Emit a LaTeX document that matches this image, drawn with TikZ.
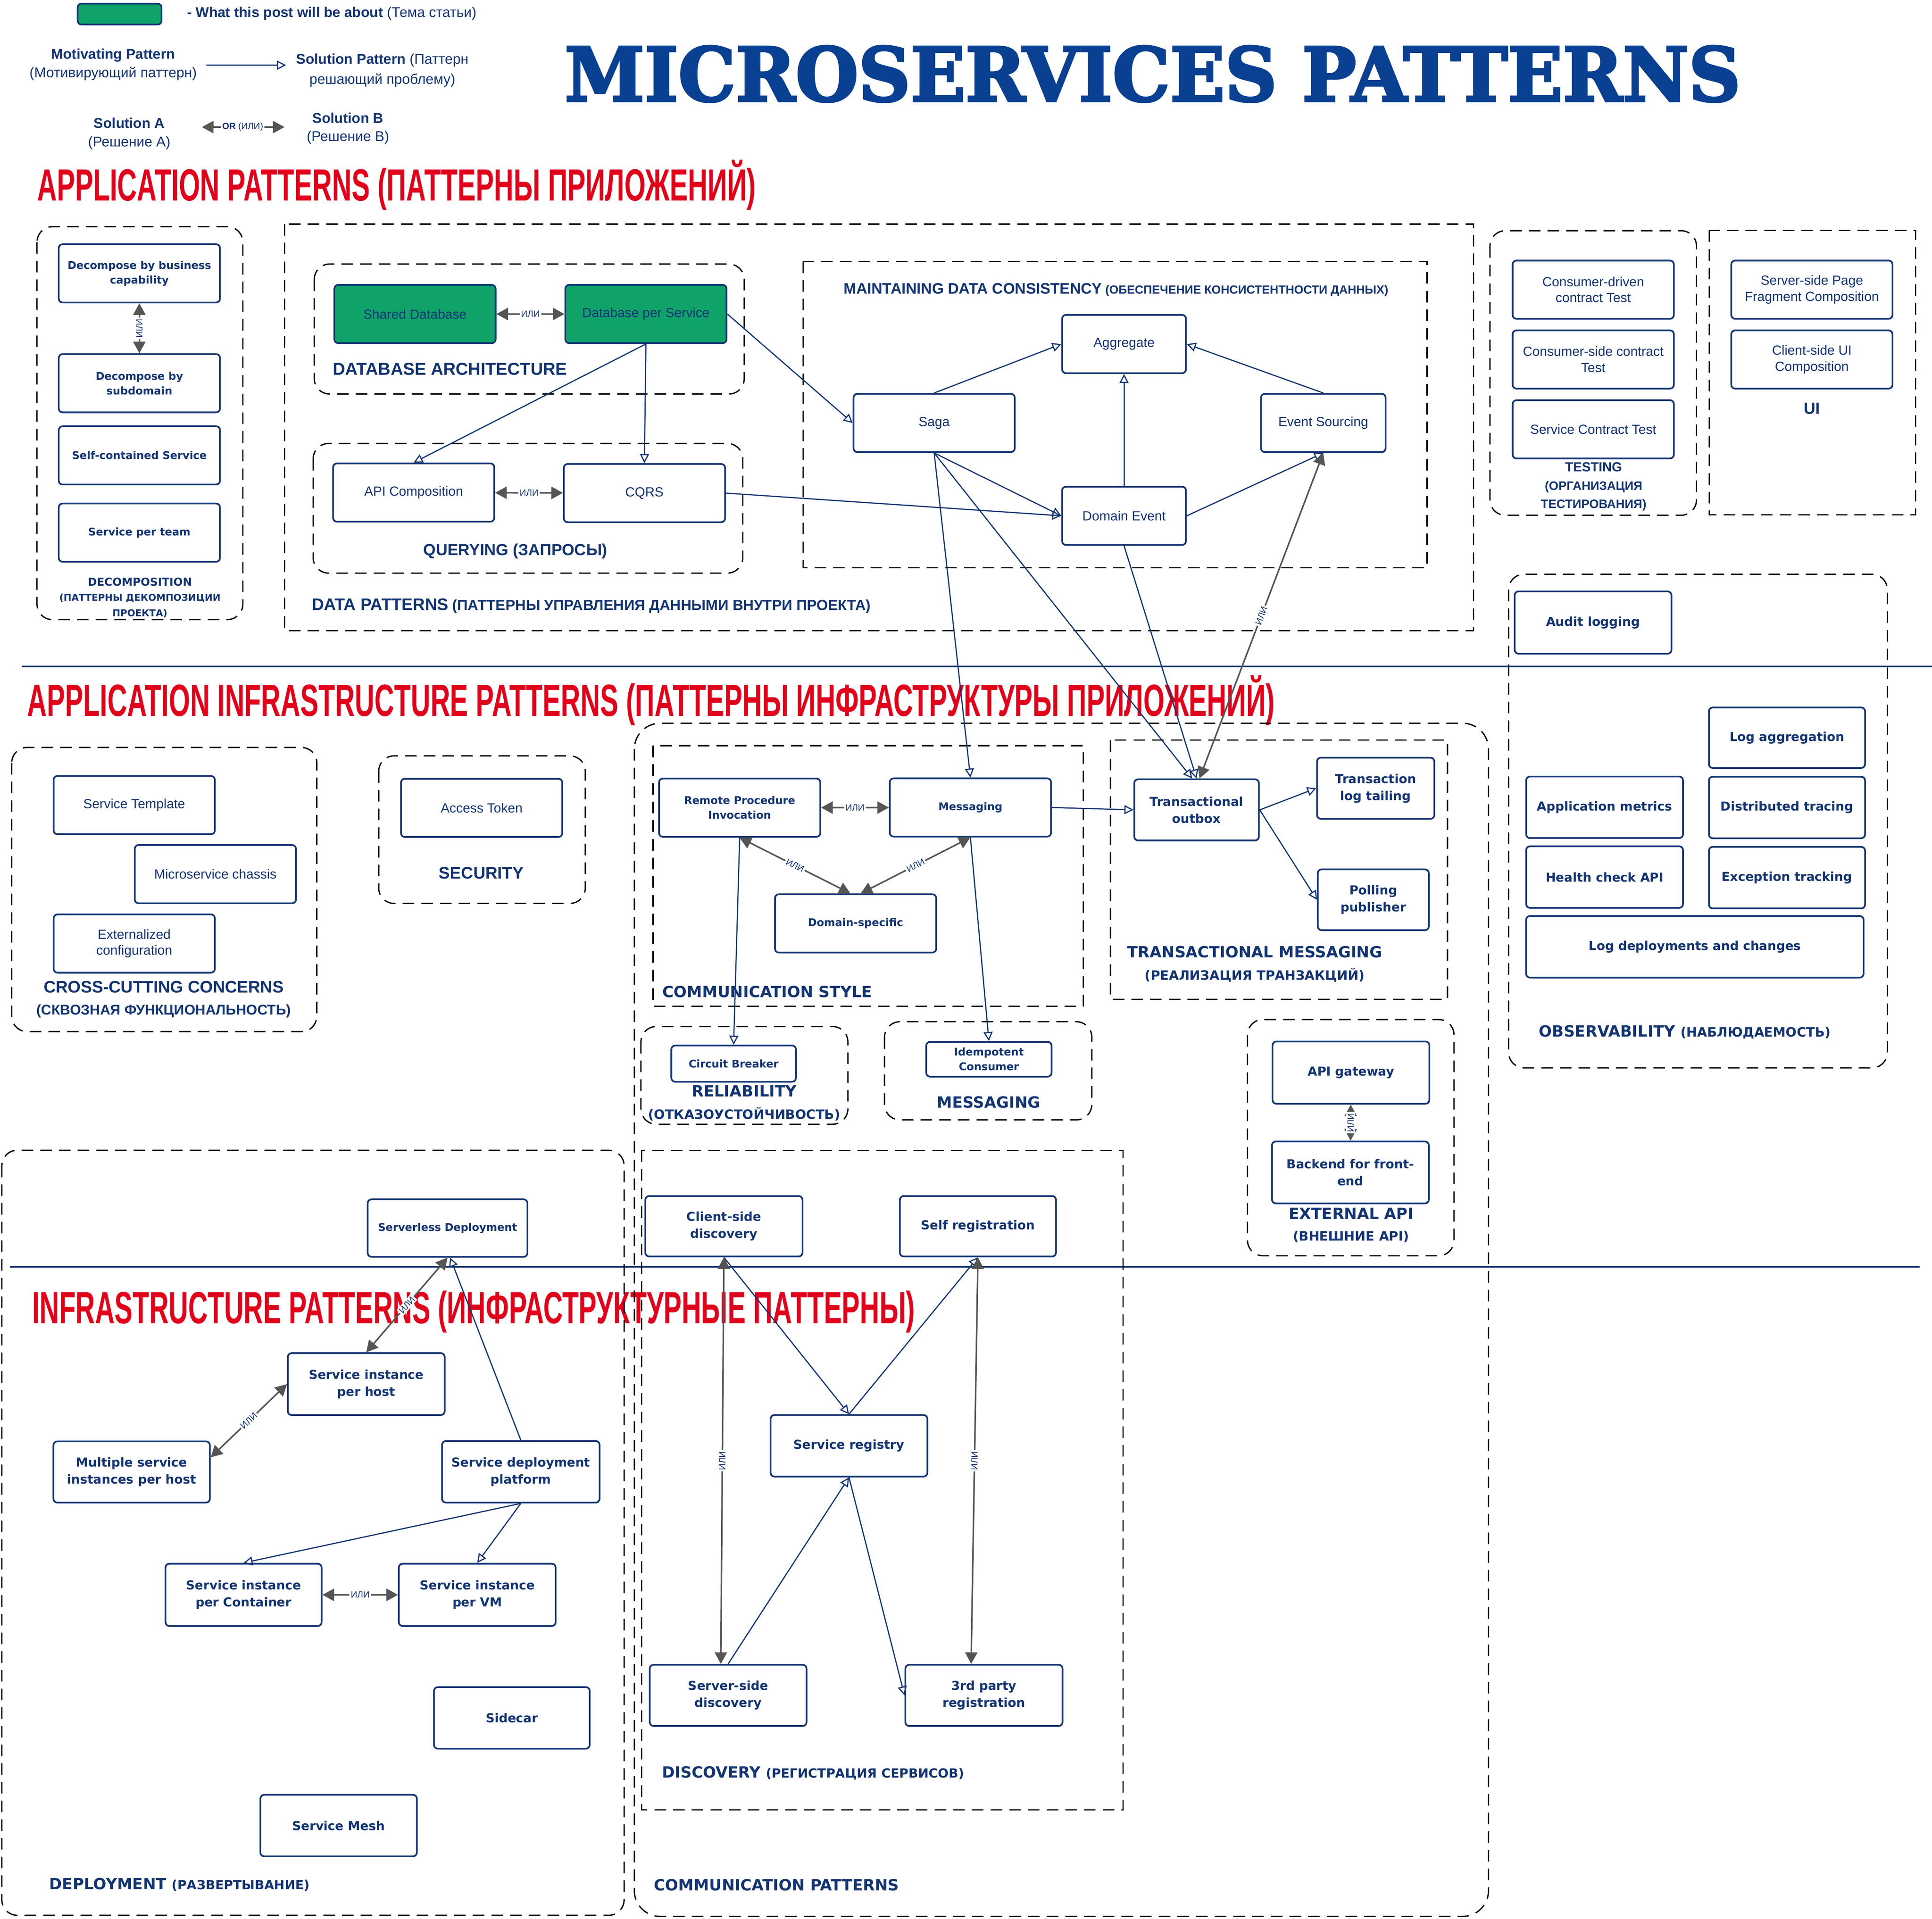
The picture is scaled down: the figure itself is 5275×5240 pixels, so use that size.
\documentclass[tikz,border=0pt]{standalone}
\usepackage{fontspec}
\usepackage{graphicx}
\setmainfont{Liberation Sans}
\newfontfamily\widefont{DejaVu Sans}
\newfontfamily\slabfont{DejaVu Serif}[FakeBold=3]
\definecolor{Navy}{RGB}{19, 52, 115}
\definecolor{TitleBlue}{RGB}{10, 64, 145}
\definecolor{Leaf}{RGB}{15, 163, 106}
\definecolor{Alert}{RGB}{226, 0, 26}
\definecolor{Shade}{RGB}{85, 85, 85}
\usetikzlibrary{arrows.meta, positioning}

\begin{document}
\begin{tikzpicture}[
        x=0.01cm, y=-0.01cm,
        box/.style={rectangle, draw=Navy, line width=1.3pt, rounded corners=3pt, text=Navy, align=center, inner sep=2pt, font=\fontsize{10.3}{12.5}\selectfont},
        pat/.style={box, minimum width=4.4cm, minimum height=1.59cm},
        spat/.style={pat, font=\widefont\bfseries\fontsize{8.25}{11.4}\selectfont},
        wpat/.style={box, minimum width=4.28cm, minimum height=1.68cm, font=\widefont\bfseries\fontsize{9.6}{13.2}\selectfont},
        zone/.style={draw, line width=1pt, dash pattern=on 9pt off 5.5pt},
        softzone/.style={zone, rounded corners=12pt},
        zonetitle/.style={text=Navy, inner sep=0pt, align=center, font=\bfseries},
        wtitle/.style={zonetitle, font=\widefont\bfseries\fontsize{12}{17.4}\selectfont},
        redhead/.style={anchor=base west, inner sep=0pt, text=Alert, font=\bfseries\fontsize{35}{40}\selectfont},
        link/.style={draw=Navy, line width=0.9pt, -{Triangle[open, length=7pt, width=7pt]}},
        orlink/.style={draw=Shade, line width=1.2pt, {Triangle[length=9pt, width=9.5pt]}-{Triangle[length=9pt, width=9.5pt]}},
        orlabel/.style={midway, sloped, fill=white, inner sep=1pt, text=Navy, font=\fontsize{7}{8}\selectfont}
    ]
    \path[use as bounding box, fill=white] (0,0) rectangle (5275,5240);

    \node[box, fill=Leaf, minimum width=2.29cm, minimum height=0.57cm] (keybox) at (326.5,38.5) {};
    \node[anchor=west, inner sep=0pt, text=Navy, font=\fontsize{11}{13}\selectfont] (keytext) at (510,37) {\textbf{- What this post will be about} (Тема статьи)};
    \node[zonetitle, font=\fontsize{11}{14.5}\selectfont] (motiv) at (309,176) {\textbf{Motivating Pattern}\\(Мотивирующий паттерн)};
    \node[zonetitle, font=\fontsize{11}{15.4}\selectfont] (solpat) at (1044,192) {\textbf{Solution Pattern} (Паттерн\\решающий проблему)};
    \node[zonetitle, font=\fontsize{11}{14.2}\selectfont] (solA) at (353,365) {\textbf{Solution A}\\(Решение А)};
    \node[zonetitle, font=\fontsize{11}{14.2}\selectfont] (solB) at (950,351) {\textbf{Solution B}\\(Решение B)};
    \path[link, shorten <=0.25cm, shorten >=0.27cm] ([yshift=-0.02cm]motiv.east) -- ([yshift=0.14cm]solpat.west);
    \path[orlink, shorten <=0.85cm, shorten >=0.6cm] ([yshift=0.18cm]solA.east) -- node[orlabel, pos=0.53] {\textbf{OR} (ИЛИ)} ([yshift=0.04cm]solB.west);

    \node[anchor=base west, inner sep=0pt, text=TitleBlue, font=\slabfont\bfseries\fontsize{57.8}{60}\selectfont] (maintitle) at (1541,276) {\resizebox{32.09cm}{\height}{MICROSERVICES PATTERNS}};

    \node[redhead] (apphead) at (101,548) {\resizebox{19.61cm}{\height}{APPLICATION PATTERNS (ПАТТЕРНЫ ПРИЛОЖЕНИЙ)}};
    \node[redhead] (infrahead) at (74,1955) {\resizebox{34.04cm}{\height}{APPLICATION INFRASTRUCTURE PATTERNS (ПАТТЕРНЫ ИНФРАСТРУКТУРЫ ПРИЛОЖЕНИЙ)}};
    \node[redhead] (infhead) at (87,3614) {\resizebox{24.09cm}{\height}{INFRASTRUCTURE PATTERNS (ИНФРАСТРУКТУРНЫЕ ПАТТЕРНЫ)}};
    \draw[Navy, line width=1.1pt] (60,1820) -- (5275,1820);
    \draw[Navy, line width=1.1pt] (27,3459) -- (5241,3459);

    \draw[softzone] (101,619) rectangle (663,1692);
    \node[spat] (bizcap) at (380.5,746.5) {Decompose by business\\capability};
    \node[spat] (subdom) at (380.5,1046.5) {Decompose by\\subdomain};
    \node[spat] (selfcont) at (380.5,1243.5) {Self-contained Service};
    \node[spat] (perteam) at (380.5,1454.5) {Service per team};
    \node[zonetitle, font=\widefont\bfseries\fontsize{7.3}{11.8}\selectfont] (decomp) at (382,1632) {{\fontsize{8.5}{11.8}\selectfont DECOMPOSITION}\\(ПАТТЕРНЫ ДЕКОМПОЗИЦИИ\\ПРОЕКТА)};
    \path[orlink] (bizcap) -- node[orlabel] {ИЛИ} (subdom);

    \draw[zone] (777,612) rectangle (4023,1722);
    \draw[softzone] (858,721) rectangle (2032,1076);
    \draw[softzone] (855,1211) rectangle (2028,1565);
    \draw[zone] (2193,714) rectangle (3896,1550);
    \node[pat, fill=Leaf] (shareddb) at (1133,857.5) {Shared Database};
    \node[pat, fill=Leaf] (dbperservice) at (1763.5,857.5) {Database per Service};
    \node[zonetitle, anchor=west, font=\bfseries\fontsize{13.4}{16}\selectfont] (dbarch) at (908,1008) {DATABASE ARCHITECTURE};
    \node[pat] (apicomp) at (1129.5,1345) {API Composition};
    \node[pat] (cqrs) at (1759.5,1346.5) {CQRS};
    \node[zonetitle, font=\bfseries\fontsize{12.5}{15}\selectfont] (querying) at (1407,1505) {QUERYING (ЗАПРОСЫ)};
    \node[zonetitle, anchor=west, font=\bfseries\fontsize{11.4}{13}\selectfont] (datapat) at (851,1655) {{\fontsize{13}{16}\selectfont DATA PATTERNS} (ПАТТЕРНЫ УПРАВЛЕНИЯ ДАННЫМИ ВНУТРИ ПРОЕКТА)};
    \node[zonetitle, font=\bfseries\fontsize{9.2}{10}\selectfont] (consist) at (3047,791) {{\fontsize{11.8}{14}\selectfont MAINTAINING DATA CONSISTENCY} (ОБЕСПЕЧЕНИЕ КОНСИСТЕНТНОСТИ ДАННЫХ)};
    \node[pat, minimum width=3.38cm] (aggregate) at (3069,939.5) {Aggregate};
    \node[pat] (saga) at (2550.5,1155) {Saga};
    \node[pat, minimum width=3.4cm] (eventsrc) at (3613,1155) {Event Sourcing};
    \node[pat, minimum width=3.38cm] (domevent) at (3069,1408.5) {Domain Event};

    \draw[softzone] (4068,630) rectangle (4632,1407);
    \node[pat] (cdct) at (4350,791) {Consumer-driven\\contract Test};
    \node[pat, below=0.27cm of cdct] (csct) {Consumer-side contract\\Test};
    \node[pat, below=0.27cm of csct] (sct) {Service Contract Test};
    \node[zonetitle, font=\bfseries\fontsize{9.5}{14.2}\selectfont] (testing) at (4351,1329) {{\fontsize{10.2}{14.2}\selectfont TESTING}\\(ОРГАНИЗАЦИЯ\\ТЕСТИРОВАНИЯ)};

    \draw[zone] (4667,629) rectangle (5230,1406);
    \node[pat] (pagefrag) at (4947,791) {Server-side Page\\Fragment Composition};
    \node[pat, below=0.27cm of pagefrag] (clientui) {Client-side UI\\Composition};
    \node[zonetitle, font=\bfseries\fontsize{12.5}{15}\selectfont] (ui) at (4947,1115) {UI};

    \draw[softzone] (4119,1568) rectangle (5153,2916);
    \node[wpat, minimum height=1.7cm] (audit) at (4349.5,1700) {Audit logging};
    \node[wpat, minimum width=4.26cm, minimum height=1.65cm] (logagg) at (4879,2014.5) {Log aggregation};
    \node[wpat] (appmetrics) at (4381,2204.5) {Application metrics};
    \node[wpat, minimum width=4.26cm] (distrace) at (4879,2205) {Distributed tracing};
    \node[wpat] (healthapi) at (4381,2395) {Health check API};
    \node[wpat, minimum width=4.26cm] (exctrack) at (4879,2396.5) {Exception tracking};
    \node[wpat, minimum width=9.21cm] (logdeploy) at (4627.5,2585.5) {Log deployments and changes};
    \node[wtitle, anchor=west] (observ) at (4201,2818) {OBSERVABILITY {\fontsize{10}{12}\selectfont (НАБЛЮДАЕМОСТЬ)}};

    \draw[softzone] (32,2041) rectangle (865,2817);
    \node[pat] (svctemplate) at (366.5,2198.5) {Service Template};
    \node[pat] (chassis) at (588,2387) {Microservice chassis};
    \node[pat] (extconfig) at (366.5,2576.5) {Externalized\\configuration};
    \node[zonetitle, font=\bfseries\fontsize{11}{17}\selectfont] (crosscut) at (447,2729) {{\fontsize{13}{17}\selectfont CROSS-CUTTING CONCERNS}\\(СКВОЗНАЯ ФУНКЦИОНАЛЬНОСТЬ)};

    \draw[softzone] (1034,2064) rectangle (1598,2467);
    \node[pat] (token) at (1315,2206) {Access Token};
    \node[zonetitle, font=\bfseries\fontsize{13}{15}\selectfont] (security) at (1314,2384) {SECURITY};

    \draw[softzone, rounded corners=20pt] (1732,1975) rectangle (4064,5233);
    \draw[zone] (1783,2036) rectangle (2958,2748);
    \node[spat] (rpi) at (2019.5,2205.5) {Remote Procedure\\Invocation};
    \node[spat] (messaging) at (2649.5,2205) {Messaging};
    \node[spat] (domspec) at (2336,2521.5) {Domain-specific};
    \node[wtitle, anchor=west] (commstyle) at (1808,2708) {COMMUNICATION STYLE};

    \draw[softzone] (1750,2803) rectangle (2315,3070);
    \node[spat, minimum width=3.4cm, minimum height=0.99cm] (breaker) at (2003,2904.5) {Circuit Breaker};
    \node[wtitle, font=\widefont\bfseries\fontsize{10}{17.4}\selectfont] (reliab) at (2032,3012) {{\fontsize{12}{17.4}\selectfont RELIABILITY}\\(ОТКАЗОУСТОЙЧИВОСТЬ)};

    \draw[softzone] (2415,2790) rectangle (2981,3058);
    \node[spat, minimum width=3.42cm, minimum height=0.95cm] (idempotent) at (2700,2892.5) {Idempotent\\Consumer};
    \node[wtitle] (msgzone) at (2699,3010) {MESSAGING};

    \draw[zone] (3032,2021) rectangle (3952,2729);
    \node[wpat, minimum width=3.4cm, minimum height=1.67cm] (outbox) at (3267,2211.5) {Transactional\\outbox};
    \node[wpat, minimum width=3.2cm, minimum height=1.67cm] (logtail) at (3756,2152.5) {Transaction\\log tailing};
    \node[wpat, minimum width=3.03cm, minimum height=1.66cm] (polling) at (3749.5,2457) {Polling\\publisher};
    \node[wtitle, font=\widefont\bfseries\fontsize{10}{17.4}\selectfont] (txmsg) at (3426,2633) {{\fontsize{12}{17.4}\selectfont TRANSACTIONAL MESSAGING}\\(РЕАЛИЗАЦИЯ ТРАНЗАКЦИЙ)};

    \draw[softzone] (3406,2784) rectangle (3970,3429);
    \node[wpat, minimum height=1.7cm] (gateway) at (3688.5,2929) {API gateway};
    \node[wpat, minimum height=1.69cm] (bff) at (3687,3201.5) {Backend for front-\\end};
    \node[wtitle, font=\widefont\bfseries\fontsize{10}{16.8}\selectfont] (extapi) at (3689,3345) {{\fontsize{12}{16.8}\selectfont EXTERNAL API}\\(ВНЕШНИЕ API)};

    \draw[zone] (1752,3141) rectangle (3066,4942);
    \node[wpat, minimum width=4.29cm, minimum height=1.65cm] (clientdisc) at (1976.5,3348.5) {Client-side\\discovery};
    \node[wpat, minimum width=4.26cm, minimum height=1.65cm] (selfreg) at (2670,3348.5) {Self registration};
    \node[wpat] (registry) at (2318,3948) {Service registry};
    \node[wpat, minimum height=1.67cm] (serverdisc) at (1988,4629.5) {Server-side\\discovery};
    \node[wpat, minimum width=4.29cm, minimum height=1.67cm] (thirdparty) at (2686.5,4629.5) {3rd party\\registration};
    \node[wtitle, anchor=west] (discovery) at (1807,4842) {DISCOVERY {\fontsize{9.8}{12}\selectfont (РЕГИСТРАЦИЯ СЕРВИСОВ)}};
    \node[wtitle, anchor=west] (commpat) at (1785,5147) {COMMUNICATION PATTERNS};

    \draw[softzone] (5,3141) rectangle (1704,5230);
    \node[spat, minimum width=4.36cm, minimum height=1.57cm] (serverless) at (1222,3353.5) {Serverless Deployment};
    \node[wpat, minimum height=1.69cm] (perhost) at (1000,3779.5) {Service instance\\per host};
    \node[wpat, minimum width=4.27cm, minimum height=1.67cm] (multihost) at (359.5,4019.5) {Multiple service\\instances per host};
    \node[wpat, minimum width=4.3cm] (platform) at (1422,4019) {Service deployment\\platform};
    \node[wpat, minimum width=4.26cm, minimum height=1.7cm] (percontainer) at (665,4355) {Service instance\\per Container};
    \node[wpat, minimum height=1.7cm] (pervm) at (1303,4355) {Service instance\\per VM};
    \node[wpat, minimum width=4.25cm] (sidecar) at (1397.5,4691) {Sidecar};
    \node[wpat, minimum width=4.27cm] (mesh) at (924.5,4985) {Service Mesh};
    \node[wtitle, anchor=west] (deploy) at (134,5146) {DEPLOYMENT {\fontsize{9.8}{12}\selectfont (РАЗВЕРТЫВАНИЕ)}};

    \path[orlink] (shareddb) -- node[orlabel] {ИЛИ} (dbperservice);
    \path[orlink] (apicomp) -- node[orlabel] {ИЛИ} (cqrs);
    \path[link] (dbperservice.south) -- (apicomp.north);
    \path[link] (dbperservice.south) -- (cqrs.north);
    \path[link] (dbperservice.east) -- (saga.west);
    \path[link] (cqrs.east) -- (domevent.west);
    \path[link] (saga.north) -- (aggregate.west);
    \path[link] (eventsrc.north) -- (aggregate.east);
    \path[link] (domevent.north) -- (aggregate.south);
    \path[link] (saga.south) -- (domevent.west);
    \path[link] (domevent.east) -- (eventsrc.south);
    \path[link] (saga.south) -- (messaging.north);
    \path[link] (saga.south) -- ([xshift=-0.12cm]outbox.north);
    \path[link] (domevent.south) -- (outbox.north);
    \path[orlink] (eventsrc.south) -- node[orlabel] {ИЛИ} ([xshift=0.08cm]outbox.north);

    \path[orlink] (rpi) -- node[orlabel] {ИЛИ} (messaging);
    \path[orlink] (rpi.south) -- node[orlabel] {ИЛИ} ([xshift=-0.14cm]domspec.north);
    \path[orlink] (messaging.south) -- node[orlabel] {ИЛИ} ([xshift=0.14cm]domspec.north);
    \path[link] (rpi.south) -- (breaker.north);
    \path[link] (messaging.south) -- (idempotent.north);
    \path[link] (messaging.east) -- (outbox.west);
    \path[link] (outbox.east) -- (logtail.west);
    \path[link] (outbox.east) -- (polling.west);
    \path[orlink] (gateway) -- node[orlabel] {ИЛИ} (bff);

    \path[link] (clientdisc.south) -- (registry.north);
    \path[link] (registry.north) -- (selfreg.south);
    \path[link] (serverdisc.north) -- (registry.south);
    \path[link] (registry.south) -- (thirdparty.west);
    \path[orlink] (clientdisc.south) -- node[orlabel] {ИЛИ} ([xshift=-0.2cm]serverdisc.north);
    \path[orlink] (selfreg.south) -- node[orlabel] {ИЛИ} ([xshift=-0.35cm]thirdparty.north);

    \path[orlink] (perhost.north) -- node[orlabel] {ИЛИ} (serverless.south);
    \path[link] (platform.north) -- ([xshift=0.07cm]serverless.south);
    \path[orlink] ([yshift=0.4cm]multihost.east) -- node[orlabel] {ИЛИ} (perhost.west);
    \path[link] (platform.south) -- (percontainer.north);
    \path[link] (platform.south) -- (pervm.north);
    \path[orlink] (percontainer) -- node[orlabel] {ИЛИ} (pervm);
\end{tikzpicture}
\end{document}
